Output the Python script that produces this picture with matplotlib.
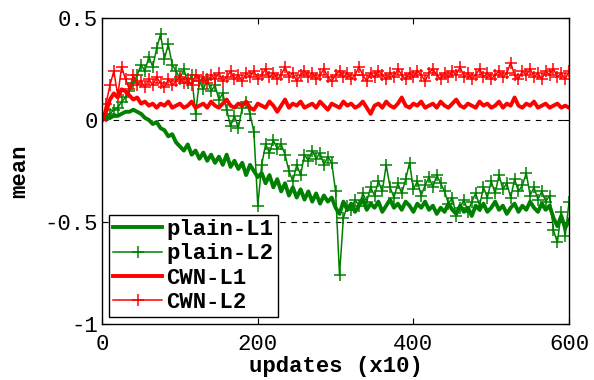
import numpy as np
import matplotlib
matplotlib.use('Agg')
import matplotlib.pyplot as plt

# eixo x: updates (x10), amostrado a cada 5
updates = np.arange(0, 601, 5)

plain_l1 = [0.0, 0.01, 0.01, 0.02, 0.02, 0.03, 0.04, 0.04, 0.05, 0.04,
            0.03, 0.01, 0.0, -0.02, -0.01, -0.04, -0.05, -0.08, -0.07, -0.11,
            -0.13, -0.15, -0.12, -0.17, -0.15, -0.19, -0.16, -0.20, -0.17, -0.21,
            -0.18, -0.22, -0.17, -0.23, -0.20, -0.24, -0.21, -0.27, -0.22, -0.25,
            -0.28, -0.26, -0.31, -0.27, -0.33, -0.29, -0.35, -0.31, -0.37, -0.33,
            -0.38, -0.34, -0.39, -0.35, -0.40, -0.36, -0.41, -0.37, -0.40, -0.38,
            -0.43, -0.46, -0.40, -0.44, -0.41, -0.45, -0.42, -0.39, -0.44, -0.41,
            -0.43, -0.40, -0.45, -0.42, -0.39, -0.43, -0.41, -0.44, -0.40, -0.42,
            -0.45, -0.41, -0.43, -0.40, -0.44, -0.42, -0.46, -0.43, -0.45, -0.41,
            -0.44, -0.46, -0.42, -0.45, -0.43, -0.47, -0.42, -0.44, -0.41, -0.45,
            -0.43, -0.40, -0.44, -0.42, -0.46, -0.43, -0.41, -0.45, -0.42, -0.44,
            -0.40, -0.43, -0.45, -0.41, -0.44, -0.42, -0.48, -0.52, -0.47, -0.53,
            -0.49]

plain_l2 = [0.0, 0.02, 0.03, 0.05, 0.06, 0.09, 0.11, 0.14, 0.18, 0.22,
            0.27, 0.24, 0.31, 0.26, 0.35, 0.42, 0.30, 0.37, 0.27, 0.24,
            0.20, 0.25, 0.18, 0.22, 0.03, 0.19, 0.15, 0.20, 0.14, 0.17,
            0.10, 0.13, 0.05, -0.03, 0.02, -0.04, 0.06, 0.09, 0.03, -0.06,
            -0.42, -0.22, -0.12, -0.16, -0.10, -0.14, -0.12, -0.17, -0.25, -0.30,
            -0.22, -0.27, -0.17, -0.20, -0.15, -0.19, -0.16, -0.22, -0.18, -0.21,
            -0.35, -0.76, -0.48, -0.42, -0.44, -0.39, -0.42, -0.36, -0.40, -0.33,
            -0.37, -0.30, -0.35, -0.22, -0.33, -0.38, -0.31, -0.36, -0.29, -0.21,
            -0.34, -0.30, -0.37, -0.32, -0.28, -0.33, -0.27, -0.31, -0.35, -0.41,
            -0.38, -0.47, -0.43, -0.39, -0.45, -0.40, -0.36, -0.42, -0.33, -0.38,
            -0.30, -0.36, -0.27, -0.34, -0.31, -0.38, -0.29, -0.35, -0.32, -0.26,
            -0.37, -0.33, -0.39, -0.35, -0.40, -0.37, -0.54, -0.60, -0.45, -0.57,
            -0.40]

cwn_l1 = [0.0, 0.04, 0.10, 0.13, 0.11, 0.15, 0.14, 0.12, 0.10, 0.11,
          0.08, 0.09, 0.07, 0.08, 0.06, 0.08, 0.07, 0.09, 0.06, 0.07,
          0.08, 0.06, 0.07, 0.09, 0.06, 0.07, 0.08, 0.06, 0.09, 0.07,
          0.06, 0.08, 0.10, 0.07, 0.06, 0.08, 0.07, 0.09, 0.06, 0.05,
          0.08, 0.07, 0.06, 0.09, 0.07, 0.04, 0.07, 0.10, 0.06, 0.08,
          0.07, 0.09, 0.06, 0.07, 0.08, 0.06, 0.09, 0.07, 0.05, 0.08,
          0.07, 0.06, 0.09, 0.07, 0.08, 0.06, 0.07, 0.09, 0.06, 0.03,
          0.07, 0.08, 0.06, 0.09, 0.07, 0.06, 0.08, 0.11, 0.07, 0.06,
          0.08, 0.07, 0.09, 0.06, 0.07, 0.08, 0.06, 0.09, 0.07, 0.06,
          0.08, 0.10, 0.07, 0.06, 0.08, 0.07, 0.06, 0.09, 0.07, 0.08,
          0.06, 0.07, 0.09, 0.06, 0.08, 0.07, 0.11, 0.07, 0.06, 0.08,
          0.07, 0.09, 0.06, 0.07, 0.08, 0.06, 0.07, 0.08, 0.06, 0.07,
          0.06]

cwn_l2 = [0.0, 0.08, 0.17, 0.24, 0.12, 0.26, 0.20, 0.15, 0.22, 0.17,
          0.19, 0.16, 0.20, 0.17, 0.21, 0.18, 0.16, 0.20, 0.17, 0.19,
          0.21, 0.18, 0.20, 0.17, 0.22, 0.19, 0.21, 0.18, 0.22, 0.20,
          0.23, 0.19, 0.21, 0.24, 0.20, 0.22, 0.19, 0.23, 0.21, 0.24,
          0.20, 0.22, 0.25, 0.21, 0.23, 0.20, 0.22, 0.26, 0.21, 0.23,
          0.19, 0.22, 0.24, 0.21, 0.23, 0.20, 0.22, 0.25, 0.21, 0.19,
          0.22, 0.24, 0.21, 0.23, 0.20, 0.22, 0.26, 0.22, 0.19, 0.23,
          0.21, 0.24, 0.22, 0.20, 0.23, 0.21, 0.25, 0.22, 0.20, 0.23,
          0.21, 0.24, 0.22, 0.19, 0.23, 0.25, 0.22, 0.20, 0.23, 0.21,
          0.24, 0.22, 0.26, 0.21, 0.23, 0.20, 0.22, 0.25, 0.21, 0.23,
          0.20, 0.22, 0.24, 0.21, 0.23, 0.28, 0.22, 0.20, 0.24, 0.22,
          0.25, 0.21, 0.23, 0.20, 0.24, 0.22, 0.25, 0.21, 0.23, 0.20,
          0.24]

labels = ['plain-L1', 'plain-L2', 'CWN-L1', 'CWN-L2']
xticks = [0, 200, 400, 600]
yticks = [-1, -0.5, 0, 0.5]
ytick_labels = ['-1', '-0.5', '0', '0.5']

green = '#008000'
red = '#ff0000'
mono = 'Liberation Mono'

fig = plt.figure(figsize=(5.94, 3.80), dpi=100)
ax = fig.add_axes([0.172, 0.147, 0.786, 0.806])

# linhas de referencia tracejadas
ax.axhline(0, color='black', linestyle=(0, (5, 5)), linewidth=0.8, zorder=1)
ax.axhline(-0.5, color='black', linestyle=(0, (5, 5)), linewidth=0.8, zorder=1)

ax.plot(updates, plain_l1, color=green, linewidth=2.8, label=labels[0])
ax.plot(updates, plain_l2, color=green, linewidth=1.1, marker='+', markersize=8,
        markeredgewidth=1.1, label=labels[1])
ax.plot(updates, cwn_l1, color=red, linewidth=2.8, label=labels[2])
ax.plot(updates, cwn_l2, color=red, linewidth=1.1, marker='+', markersize=8,
        markeredgewidth=1.1, label=labels[3])

ax.set_xlim(0, 600)
ax.set_ylim(-1, 0.5)
ax.set_xticks(xticks)
ax.set_xticklabels([str(v) for v in xticks], family=mono, fontsize=16)
ax.set_yticks(yticks)
ax.set_yticklabels(ytick_labels, family=mono, fontsize=16)
ax.tick_params(direction='in', top=True, right=True, length=4)
ax.tick_params(axis='x', pad=7)
ax.tick_params(axis='y', pad=3)
for s in ax.spines.values():
    s.set_linewidth(1)

ax.set_xlabel('updates (x10)', family=mono, fontsize=16, fontweight='bold', labelpad=1)
ax.set_ylabel('mean', family=mono, fontsize=16, fontweight='bold', labelpad=10)

leg = ax.legend(loc='lower left', prop={'family': mono, 'size': 16, 'weight': 'bold'},
                fancybox=False, edgecolor='black', framealpha=1,
                handlelength=2.2, handletextpad=0.2, labelspacing=0.15,
                borderpad=0.2, borderaxespad=0.3)
leg.get_frame().set_linewidth(1)

fig.savefig('out.png', dpi=100)
